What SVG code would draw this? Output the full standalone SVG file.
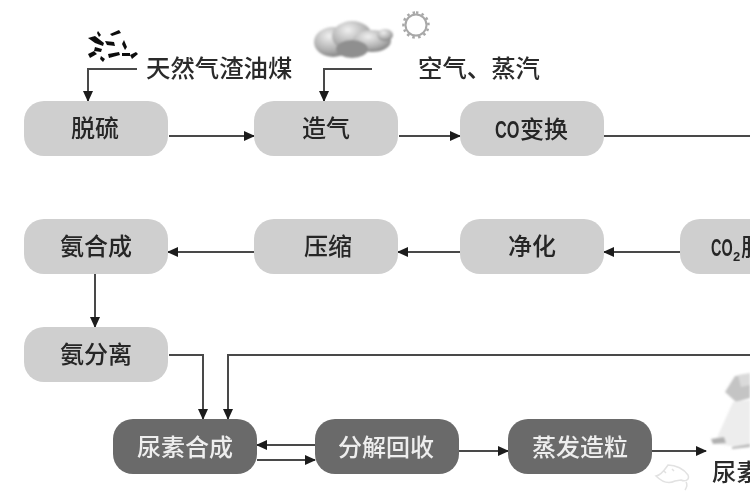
<svg xmlns="http://www.w3.org/2000/svg" width="750" height="500" viewBox="0 0 750 500">
<style>
.n{fill:#cfcfcf}
.d{fill:#6a6a6a}
text{font-family:"Noto Sans CJK SC","Liberation Sans",sans-serif;font-size:24px;font-weight:500;text-anchor:middle}
.lt{fill:#262626}
.dt{fill:#eeeeee}
.lab{fill:#2c2c2c;text-anchor:start;font-size:24.400px}
.st{text-anchor:start}
.o{font-family:"Liberation Sans",sans-serif;text-anchor:start;font-weight:700}
.c{fill:none;stroke:#484848;stroke-width:2}
</style>
<defs>
<marker id="a" markerUnits="userSpaceOnUse" markerWidth="11" markerHeight="10" refX="10" refY="5" orient="auto"><path d="M0 0L11 5L0 10Z" fill="#1c1c1c"/></marker>
<radialGradient id="cl" cx="0.4" cy="0.3" r="0.8"><stop offset="0" stop-color="#f0f0f0"/><stop offset="0.6" stop-color="#b0b0b0"/><stop offset="1" stop-color="#747474"/></radialGradient>
<filter id="s" x="-10%" y="-10%" width="120%" height="120%"><feGaussianBlur stdDeviation="0.5"/></filter>
<filter id="b" x="-20%" y="-20%" width="140%" height="140%"><feGaussianBlur stdDeviation="1"/></filter>
</defs>
<rect width="750" height="500" fill="#fff"/>
<g filter="url(#s)">
<g id="connectors">
<path class="c" marker-end="url(#a)" d="M137 69H88V101"/>
<path class="c" marker-end="url(#a)" d="M372 69H324V101"/>
<path class="c" marker-end="url(#a)" d="M169 136H254"/>
<path class="c" marker-end="url(#a)" d="M399 136H460"/>
<path class="c" stroke-width="2.500" d="M604 136H750"/>
<path class="c" marker-end="url(#a)" d="M680 252H604"/>
<path class="c" marker-end="url(#a)" d="M460 252H398"/>
<path class="c" marker-end="url(#a)" d="M254 252H168"/>
<path class="c" marker-end="url(#a)" d="M95 274V327"/>
<path class="c" marker-end="url(#a)" d="M169 355H203V419"/>
<path class="c" stroke-width="2.500" marker-end="url(#a)" d="M750 355H228V419"/>
<path class="c" marker-end="url(#a)" d="M315 445H257"/>
<path class="c" marker-end="url(#a)" d="M257 460H315"/>
<path class="c" marker-end="url(#a)" d="M459 451H508"/>
<path class="c" stroke-width="2.500" marker-end="url(#a)" d="M652 451H706"/>
</g>
<g id="coal" fill="#111">
<path d="M88 38l7-2 9 7-1 3-8-3zM98 31l3 4-2 2-2-4zM110 34l9-4 2 3-9 3zM105 41l9 1 1 4-8-1zM124 40l3 7-2 3-3-6zM95 47l7 2-1 3-7-1zM88 54l6-3 3 3-7 4zM108 54l11-2 1 3-11 3zM122 53l8 0 0 3-8 0zM130 55l6-3 2 2-6 5zM101 56l4 3-2 3-3-3z"/>
</g>
<g id="cloud" filter="url(#b)">
<ellipse cx="333" cy="42" rx="19" ry="15" fill="url(#cl)"/>
<ellipse cx="352" cy="36" rx="20" ry="15" fill="url(#cl)"/>
<ellipse cx="372" cy="41" rx="19" ry="11" fill="url(#cl)"/>
<ellipse cx="385" cy="35" rx="8" ry="6" fill="url(#cl)"/>
<ellipse cx="352" cy="49" rx="16" ry="9" fill="#8f8f8f"/>
</g>
<g id="sun" fill="none" stroke="#a8a8a8">
<circle cx="416" cy="25" r="10.500" stroke-width="2"/>
<path stroke-width="2.500" stroke-dasharray="2.500 3.200" d="M416 12.500A12.500 12.500 0 1 1 415.900 12.500"/>
</g>
<text class="lab" x="146" y="77">天然气渣油煤</text>
<text class="lab" x="418" y="77">空气、蒸汽</text>
<g id="n1"><rect class="n" x="24" y="101" width="144" height="55" rx="20"/><text class="lt" x="95" y="137">脱硫</text></g>
<g id="n2"><rect class="n" x="254" y="101" width="144" height="55" rx="20"/><text class="lt" x="326" y="137">造气</text></g>
<g id="n3"><rect class="n" x="460" y="101" width="144" height="55" rx="20"/><text class="lt o" transform="translate(495 138) scale(.68 1)">CO</text><text class="lt st" x="520" y="138">变换</text></g>
<g id="n4"><rect class="n" x="680" y="219" width="110" height="55" rx="20"/><text class="lt o" transform="translate(711 256) scale(.6 1)">CO</text><text class="lt o" style="font-size:13px" x="733" y="261">2</text><text class="lt st" x="741" y="256">脱</text></g>
<g id="n5"><rect class="n" x="460" y="219" width="144" height="55" rx="20"/><text class="lt" x="532" y="255">净化</text></g>
<g id="n6"><rect class="n" x="254" y="219" width="144" height="55" rx="20"/><text class="lt" x="328" y="255">压缩</text></g>
<g id="n7"><rect class="n" x="24" y="219" width="144" height="55" rx="20"/><text class="lt" x="96" y="255">氨合成</text></g>
<g id="n8"><rect class="n" x="24" y="327" width="144" height="55" rx="20"/><text class="lt" x="96" y="363">氨分离</text></g>
<g id="n9"><rect class="d" x="113" y="419" width="144" height="55" rx="20"/><text class="dt" x="185" y="456">尿素合成</text></g>
<g id="n10"><rect class="d" x="315" y="419" width="144" height="55" rx="20"/><text class="dt" x="386" y="456">分解回收</text></g>
<g id="n11"><rect class="d" x="508" y="419" width="144" height="55" rx="20"/><text class="dt" x="580" y="456">蒸发造粒</text></g>
<g id="urea">
<g filter="url(#b)">
<path d="M725 392l10-16 15-1V398l-14 4z" fill="#c4c4c4"/>
<path d="M733 402L716 440l-3 3 23 4 14-1V400z" fill="#ededed"/>
<path d="M738 375l12-2v12l-9 2z" fill="#dadada"/>
<path d="M711 439l13-2 2 6-13 1z" fill="#b0b0b0"/>
<path d="M732 447l18-3v3l-18 2z" fill="#b8b8b8"/>
</g>
<text class="lab" x="712" y="481">尿素</text>
</g>
<path id="mark" d="M656 476c6-1 9-7 12-11 8 0 16 4 20 10 2 5-3 7-7 5l-6 1c-6 3-13 1-19-5zM686 482c2 3 1 5-1 8M664 471l2 2M672 469l2 2" fill="none" stroke="#e2e2e2" stroke-width="1.500"/>
</g>
</svg>
